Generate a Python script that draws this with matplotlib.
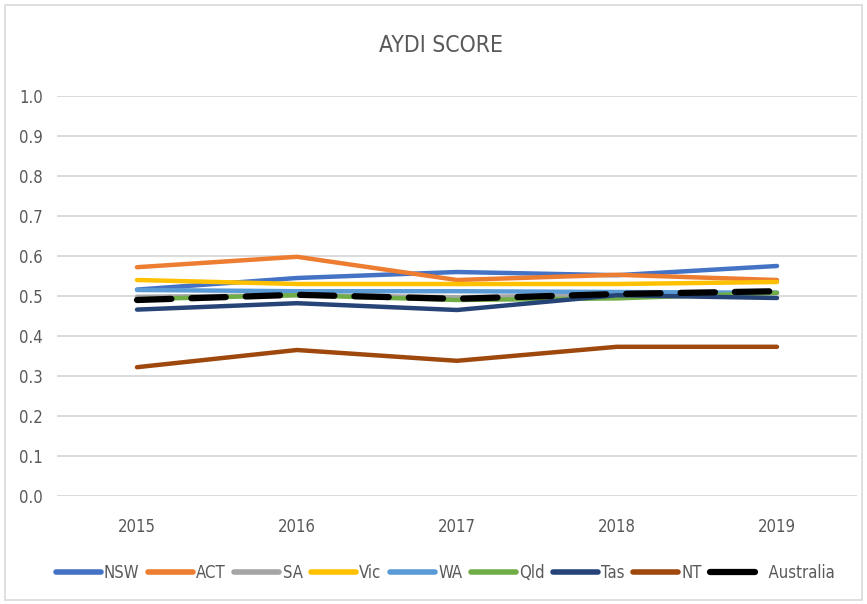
import matplotlib
matplotlib.use("Agg")
import matplotlib.pyplot as plt
from matplotlib.patches import Rectangle
from matplotlib.lines import Line2D
from matplotlib import font_manager

years = ["2015", "2016", "2017", "2018", "2019"]
NSW = [0.516, 0.545, 0.560, 0.552, 0.575]
ACT = [0.572, 0.598, 0.540, 0.553, 0.540]
SA = [0.498, 0.502, 0.497, 0.503, 0.508]
Vic = [0.540, 0.530, 0.530, 0.530, 0.535]
WA = [0.515, 0.512, 0.512, 0.510, 0.508]
Qld = [0.492, 0.502, 0.490, 0.494, 0.508]
Tas = [0.466, 0.482, 0.465, 0.502, 0.495]
NT = [0.322, 0.365, 0.338, 0.373, 0.373]
Australia = [0.490, 0.503, 0.493, 0.505, 0.512]

series = [
    ("NSW", NSW, "#4472C4"),
    ("ACT", ACT, "#ED7D31"),
    ("SA", SA, "#A5A5A5"),
    ("Vic", Vic, "#FFC000"),
    ("WA", WA, "#5B9BD5"),
    ("Qld", Qld, "#70AD47"),
    ("Tas", Tas, "#264478"),
    ("NT", NT, "#9E480E"),
]

avail = {f.name for f in font_manager.fontManager.ttflist}
if "Liberation Sans Narrow" in avail:
    plt.rcParams["font.family"] = ["Liberation Sans Narrow", "DejaVu Sans"]
else:
    plt.rcParams["font.family"] = ["DejaVu Sans"]
    plt.rcParams["font.stretch"] = "condensed"
txt = "#595959"

fig = plt.figure(figsize=(8.67, 6.04), dpi=100)
fig.patches.append(Rectangle((0.006, 0.006), 0.988, 0.986, transform=fig.transFigure,
                             fill=False, edgecolor="#d9d9d9", linewidth=1.2))
ax = fig.add_axes([57 / 867, 108 / 604, 800 / 867, 400 / 604])
x = list(range(len(years)))
handles = []
for name, vals, col in series:
    ax.plot(x, vals, color=col, lw=3.2, solid_capstyle="round", label=name)
    handles.append(Line2D([], [], color=col, lw=4, solid_capstyle="round", label=name))
ax.plot(x, Australia, color="black", lw=4.5, dashes=(5.5, 3.2), dash_capstyle="round",
        label="Australia")
handles.append(Line2D([], [], color="black", lw=4.5, solid_capstyle="round", label="  Australia"))

ax.set_xlim(-0.5, 4.5)
ax.set_ylim(0, 1.0)
ax.set_yticks([i / 10 for i in range(11)])
ax.set_yticklabels([f"{i/10:.1f}" for i in range(11)])
ax.set_xticks(x)
ax.set_xticklabels(years)
ax.grid(axis="y", color="#d9d9d9", lw=1.3)
ax.set_axisbelow(True)
for s in ax.spines.values():
    s.set_visible(False)
ax.tick_params(axis="both", length=0, colors=txt, labelsize=12)
ax.tick_params(axis="y", pad=10)
ax.tick_params(axis="x", pad=16)

fig.text(441 / 867, 1 - 46 / 604, "AYDI SCORE", ha="center", va="center", fontsize=16.5, color=txt)

fig.legend(handles=handles, loc="center", bbox_to_anchor=(445 / 867, 1 - 573 / 604), ncol=9,
           frameon=False, fontsize=12, handlelength=2.7, handletextpad=0.2, columnspacing=0.5,
           labelcolor=txt)

fig.savefig("out.png", dpi=100, facecolor="white")
